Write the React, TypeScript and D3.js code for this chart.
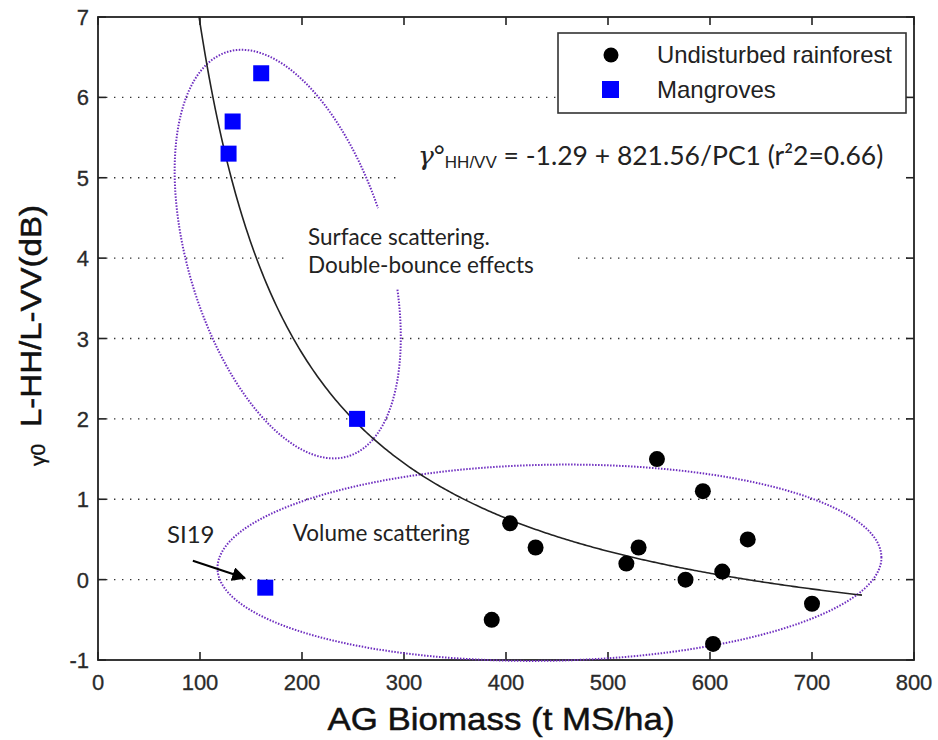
import React from 'react'
import * as d3 from 'd3'

// undisturbed rainforest plots (AG biomass, gamma0 HH/VV)
const forestX = [548, 593, 404, 429, 530, 518, 576, 612, 637, 700, 386, 603]
const forestY = [1.5, 1.1, 0.7, 0.4, 0.4, 0.2, 0.0, 0.1, 0.5, -0.3, -0.5, -0.8]

// mangrove plots
const mangroveX = [160, 132, 128, 254, 164]
const mangroveY = [6.3, 5.7, 5.3, 2.0, -0.1]

const xTicks = [0, 100, 200, 300, 400, 500, 600, 700, 800]
const yTicks = [-1, 0, 1, 2, 3, 4, 5, 6, 7]

// fitted model  y = a + b / x
const fitA = -1.29
const fitB = 821.56
const fitFrom = 99
const fitTo = 750

const W = 938
const H = 740

function App() {
  const x = d3.scaleLinear().domain([0, 800]).range([98, 914])
  const y = d3.scaleLinear().domain([-1, 7]).range([660, 17])

  const line = d3.line<[number, number]>().x(d => d[0]).y(d => d[1])

  const fitPts: [number, number][] = d3.range(fitFrom, fitTo + 1, 2).map(v => [x(v), y(fitA + fitB / v)])

  // ellipse around points: centre in data units, axes in px, angle in deg
  const ellipse = (cx: number, cy: number, a: number, b: number, rot: number, t0: number, t1: number) => {
    const th = (rot * Math.PI) / 180
    const ux = Math.cos(th), uy = Math.sin(th)
    const pts: [number, number][] = d3.range(t0, t1 + 0.5, 1).map(deg => {
      const t = (deg * Math.PI) / 180
      return [x(cx) + a * Math.cos(t) * ux - b * Math.sin(t) * uy, y(cy) + a * Math.cos(t) * uy + b * Math.sin(t) * ux]
    })
    return line(pts) as string
  }

  const tickCol = '#2a2a2a'
  const purple = '#6f2fc0'
  const arial = 'Liberation Sans, Arial'
  const cal = 'Lato, Open Sans'

  return (
    <svg width={W} height={H} style={{ position: 'absolute', left: 0, top: 0, background: '#fff' }}>
      {/* grid */}
      <g>
        {yTicks.slice(1, -1).map(t => (
          <line key={t} x1={x(0)} x2={x(800)} y1={y(t)} y2={y(t)} stroke="#333" strokeWidth={1.4} strokeDasharray="1.4,6.6" />
        ))}
      </g>
      {/* text boxes hide grid */}
      <rect x={400} y={128} width={512} height={66} fill="#fff" />
      <rect x={287} y={225} width={288} height={58} fill="#fff" />

      {/* axes box + ticks */}
      <rect x={x(0)} y={y(7)} width={x(800) - x(0)} height={y(-1) - y(7)} fill="none" stroke="#222" strokeWidth={1.8} />
      {xTicks.map(t => (
        <g key={t}>
          <line x1={x(t)} x2={x(t)} y1={y(-1)} y2={y(-1) - 8} stroke="#222" strokeWidth={1.6} />
          <line x1={x(t)} x2={x(t)} y1={y(7)} y2={y(7) + 8} stroke="#222" strokeWidth={1.6} />
          <text x={x(t)} y={690} textAnchor="middle" fontFamily={arial} fontSize={22} fill={tickCol} stroke={tickCol} strokeWidth={0.3}>{t}</text>
        </g>
      ))}
      {yTicks.map(t => (
        <g key={t}>
          <line x1={x(0)} x2={x(0) + 8} y1={y(t)} y2={y(t)} stroke="#222" strokeWidth={1.6} />
          <line x1={x(800)} x2={x(800) - 8} y1={y(t)} y2={y(t)} stroke="#222" strokeWidth={1.6} />
          <text x={89} y={y(t) + 8} textAnchor="end" fontFamily={arial} fontSize={22} fill={tickCol} stroke={tickCol} strokeWidth={0.3}>{t}</text>
        </g>
      ))}

      {/* axis titles */}
      <text x={501} y={730} textAnchor="middle" fontFamily={arial} fontSize={32} textLength={347} lengthAdjust="spacingAndGlyphs" fill="#111" stroke="#111" strokeWidth={0.5}>AG Biomass (t MS/ha)</text>
      <text transform="translate(41,316) rotate(-90)" textAnchor="middle" fontFamily={arial} fontSize={30} textLength={222} lengthAdjust="spacingAndGlyphs" fill="#111" stroke="#111" strokeWidth={0.5}>L-HH/L-VV(dB)</text>
      <text transform="translate(45,455) rotate(-90)" textAnchor="middle" fontFamily={arial} fontSize={21} fill="#111" stroke="#111" strokeWidth={0.3}>γ0</text>

      {/* group ellipses */}
      <path d={ellipse(186, 4.05, 211, 100, 73.5, -72, 265)} fill="none" stroke={purple} strokeWidth={2} strokeDasharray="1.5,1.5" />
      <path d={ellipse(442.6, 0.21, 332, 98, -1, 0, 360)} fill="none" stroke={purple} strokeWidth={2} strokeDasharray="1.5,1.5" />

      {/* fit */}
      <path d={line(fitPts) as string} fill="none" stroke="#222" strokeWidth={1.6} />

      {/* points */}
      {forestX.map((v, i) => (
        <circle key={i} cx={x(v)} cy={y(forestY[i])} r={8} fill="#000" />
      ))}
      {mangroveX.map((v, i) => (
        <rect key={i} x={x(v) - 8} y={y(mangroveY[i]) - 8} width={16} height={16} fill="#0000ff" />
      ))}

      {/* annotations */}
      <text x={418} y={165} fontFamily={cal} fontSize={26.5} fill="#222">
        <tspan fontStyle="italic" fontFamily="DejaVu Serif">γ</tspan>
        <tspan>°</tspan>
        <tspan fontFamily={arial} fontSize={17} dy={3}>HH/VV</tspan>
        <tspan dy={-3}> = -1.29 + 821.56/PC1 (r²2=0.66)</tspan>
      </text>
      <text x={308} y={245} fontFamily={cal} fontSize={22.5} fill="#222">Surface scattering.</text>
      <text x={308} y={273} fontFamily={cal} fontSize={22.5} fill="#222">Double-bounce effects</text>
      <text x={x(191)} y={y(0.48)} fontFamily={cal} fontSize={22.5} fill="#222">Volume scattering</text>
      <text x={x(67.6)} y={y(0.46)} fontFamily={cal} fontSize={24} fill="#222">SI19</text>
      <defs>
        <marker id="ah" viewBox="0 0 10 10" refX={9} refY={5} markerWidth={7} markerHeight={7} orient="auto">
          <path d="M0,0 L10,5 L0,10 z" fill="#000" />
        </marker>
      </defs>
      <line x1={x(93)} y1={y(0.234)} x2={x(144)} y2={y(0.02)} stroke="#000" strokeWidth={2} markerEnd="url(#ah)" />

      {/* legend */}
      <rect x={558} y={33} width={348} height={80} fill="#fff" stroke="#333" strokeWidth={1.6} />
      <circle cx={611} cy={55} r={7.5} fill="#000" />
      <rect x={602} y={81} width={17} height={17} fill="#0000ff" />
      <text x={657} y={63} fontFamily={arial} fontSize={24} textLength={235} lengthAdjust="spacingAndGlyphs" fill="#222">Undisturbed rainforest</text>
      <text x={657} y={98} fontFamily={arial} fontSize={24} fill="#222">Mangroves</text>
    </svg>
  )
}

export default App
